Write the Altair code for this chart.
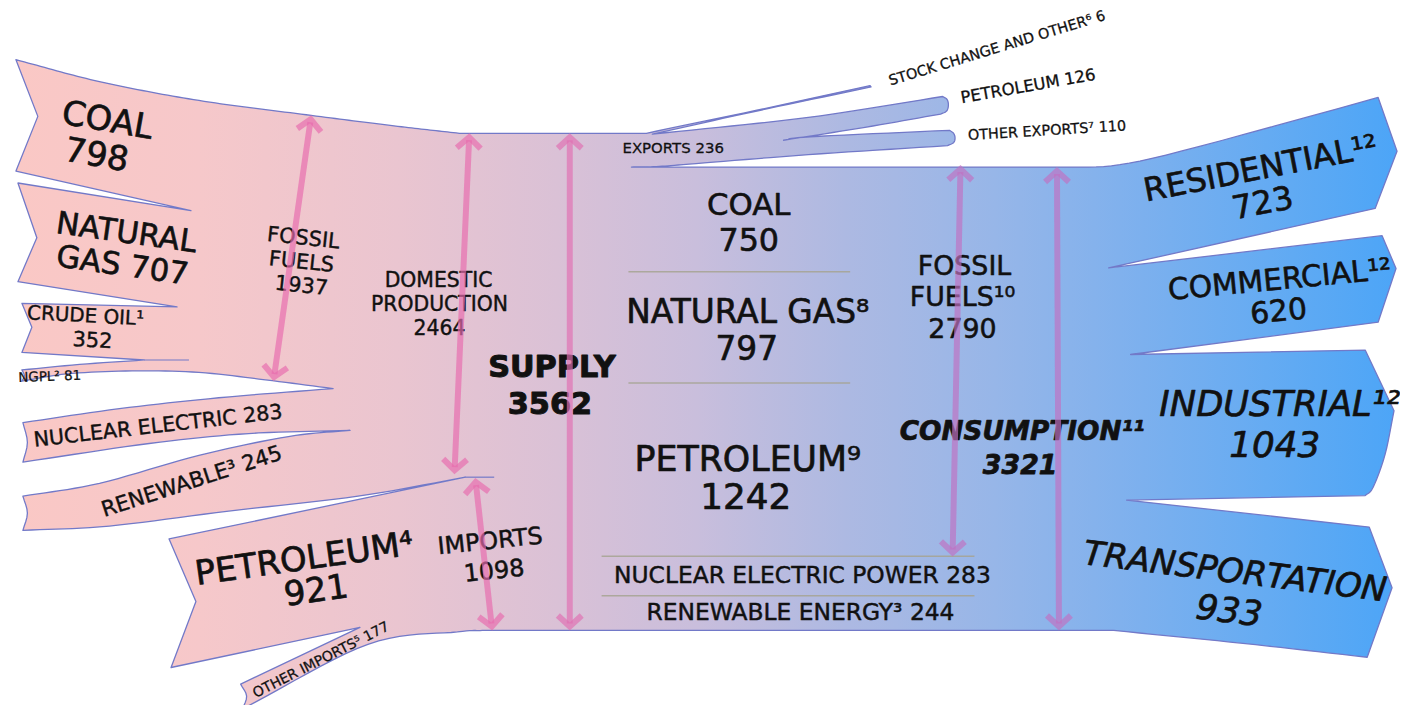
import math
import numpy as np
import pandas as pd
import altair as alt

# ---------------- values ----------------
prod_names = ["COAL", "NATURAL GAS", "CRUDE OIL", "NGPL", "NUCLEAR ELECTRIC", "RENEWABLE"]
prod_values = [798, 707, 352, 81, 283, 245]
fossil_prod = 1937
domestic_total = 2464
import_names = ["PETROLEUM", "OTHER IMPORTS"]
import_values = [921, 177]
imports_total = 1098
supply_total = 3562
export_names = ["STOCK CHANGE AND OTHER", "PETROLEUM", "OTHER EXPORTS"]
export_values = [6, 126, 110]
exports_total = 236
mix_names = ["COAL", "NATURAL GAS", "PETROLEUM", "NUCLEAR ELECTRIC POWER", "RENEWABLE ENERGY"]
mix_values = [750, 797, 1242, 283, 244]
fossil_cons = 2790
consumption_total = 3321
sector_names = ["RESIDENTIAL", "COMMERCIAL", "INDUSTRIAL", "TRANSPORTATION"]
sector_values = [723, 620, 1043, 933]

# ---------------- layout helpers ----------------
K = 500.0 / supply_total          # pixels per unit of flow
Y0 = 132.0                        # top of the supply bundle
YS = Y0 + supply_total * K
YD = Y0 + domestic_total * K
YC = Y0 + (export_values[0] + exports_total) * K
cons_cum = YC + np.cumsum([0] + sector_values) * K
mix_cum = YC + np.cumsum([0] + mix_values) * K


def cr(pts, n=12):
    pts = np.asarray(pts, float)
    if len(pts) == 2:
        return [tuple(p) for p in pts]
    P = np.vstack([2 * pts[0] - pts[1], pts, 2 * pts[-1] - pts[-2]])
    out = []
    for i in range(1, len(P) - 2):
        p0, p1, p2, p3 = P[i - 1], P[i], P[i + 1], P[i + 2]
        for t in np.linspace(0, 1, n, endpoint=False):
            t2, t3 = t * t, t * t * t
            q = 0.5 * ((2 * p1) + (-p0 + p2) * t + (2 * p0 - 5 * p1 + 4 * p2 - p3) * t2
                       + (-p0 + 3 * p1 - 3 * p2 + p3) * t3)
            out.append(tuple(q))
    out.append(tuple(P[-2]))
    return out


def bez(p0, p1, p2, p3, n=16):
    out = []
    for t in np.linspace(0, 1, n + 1):
        u = 1 - t
        out.append((u ** 3 * p0[0] + 3 * u * u * t * p1[0] + 3 * u * t * t * p2[0] + t ** 3 * p3[0],
                    u ** 3 * p0[1] + 3 * u * u * t * p1[1] + 3 * u * t * t * p2[1] + t ** 3 * p3[1]))
    return out


top_curve = cr([(16, 58), (100, 80), (200, 99), (313, 114), (400, 125), (462, Y0)], 20) + [(650, Y0)]
_tx = np.array([p[0] for p in top_curve])
_ty = np.array([p[1] for p in top_curve])


def T(x):
    return float(np.interp(x, _tx, _ty))


outline = []


def add(pts):
    for p in pts:
        if outline and abs(outline[-1][0] - p[0]) < 1e-6 and abs(outline[-1][1] - p[1]) < 1e-6:
            continue
        outline.append((float(p[0]), float(p[1])))


cum_prod = np.cumsum(prod_values)
# top edge of production / supply
add(top_curve)
# stock change (thin spike)
sc = export_values[0] * K
add(cr([(650, Y0), (760, 109), (875, 84)], 10))
add(cr([(876, 84 + sc + 0.6), (760, 109 + sc), (656, Y0 + sc)], 10))
# petroleum exports
pt = 95.0
pb = pt + export_values[1] * K
add(cr([(656, Y0 + sc), (813, 116), (948, pt)], 12))
add(cr([(948, pt), (952.5, pt + 3), (953.8, (pt + pb) / 2), (952, pb - 3), (946, pb)], 4))
add(cr([(946, pb), (870, 126), (788, 139)], 10))
# other exports
ot = 129.0
ob = ot + export_values[2] * K
add(cr([(788, 139), (815, 135.5), (955, ot)], 10))
add(cr([(955, ot), (959, ot + 3), (960.5, (ot + ob) / 2), (959, ob - 3), (953, ob)], 4))
add(cr([(953, ob), (813, 153.5), (700, 162.5), (660, YC - 0.5), (635, YC)], 10))
# consumption top -> residential
add([(635, YC), (1095, YC)])
add(bez((1095, YC), (1135, YC), (1165, 157), (1386, 96), 16))
rt = 96.0
rb = rt + sector_values[0] * K * 1.1
add([(1386, rt), (1405, 150), (1383, rb)])
add([(1383, rb), (1115, cons_cum[1])])
# commercial
ct = 235.0
cb = ct + sector_values[1] * K
add([(1115, cons_cum[1]), (1390, ct), (1404, 268), (1386, cb), (1137, cons_cum[2])])
# industrial
it = 350.0
ib = it + sector_values[2] * K
add([(1137, cons_cum[2]), (1373, it), (1402, 411)])
add(cr([(1402, 411), (1393, 455), (1381, 488), (1373, ib)], 6))
add([(1373, ib), (1133, cons_cum[3])])
# transportation
trt = 528.0
trb = trt + sector_values[3] * K
add([(1133, cons_cum[3]), (1377, trt), (1400, 589), (1375, trb)])
add(cr([(1375, trb), (1250, 645), (1120, YS)], 10))
add([(1120, YS), (485, YS)])
# other imports
oit = 686.0
oib = oit + import_values[1] * K
add(cr([(485, YS), (460, YS + 1.5), (370, 646), (244, oib)], 10))
add(cr([(244, oib), (248, 698), (242, oit)], 4))
add([(242, oit), (362, 629)])
# petroleum imports
ptop = 540.0
pbot = ptop + import_values[0] * K
add([(362, 629), (172, pbot), (197, 603), (170, ptop), (468, YD)])
# renewable
rnt = 497.0
rnb = rnt + prod_values[5] * K
tip_nr = T(352) + cum_prod[4] * K
add(cr([(468, YD), (360, 497), (230, 512), (110, 527), (23, rnb)], 10))
add(cr([(23, rnb), (27.5, 514), (23, rnt)], 4))
add(cr([(23, rnt), (100, 484), (200, 456), (290, 437), (352, tip_nr)], 10))
# nuclear
nt = 423.0
nb = nt + prod_values[4] * K
tip_f = T(335) + fossil_prod * K
add(cr([(352, tip_nr), (250, 434), (150, 444), (23, nb)], 10))
add(cr([(23, nb), (27.5, 443), (23, nt)], 4))
add(cr([(23, nt), (120, 409), (220, 398), (335, tip_f)], 10))
# NGPL
gt = 370.0
gb = gt + prod_values[3] * K
add(cr([(335, tip_f), (267, 380), (200, 372.5), (133, 371), (67, 374), (22, gb)], 10))
add(cr([(22, gb), (24.5, (gt + gb) / 2), (22, gt)], 3))
add(cr([(22, gt), (80, 364.5), (145, 360)], 8))
# crude oil
crt = 303.0
crb = crt + prod_values[2] * K
add([(145, 360), (22, crb), (32, 327), (22, crt), (178, T(178) + cum_prod[1] * K)])
# natural gas
ngt = 182.0
ngb = ngt + prod_values[1] * K
add([(178, T(178) + cum_prod[1] * K), (18, ngb), (37, 237), (18, ngt), (192, T(192) + cum_prod[0] * K)])
# coal
cob = 58 + prod_values[0] * K
add([(192, T(192) + cum_prod[0] * K), (16, cob), (38, 115)])

poly_df = pd.DataFrame({"x": [p[0] for p in outline], "y": [p[1] for p in outline],
                        "i": list(range(len(outline)))})

# internal boundary stubs
ext_rows = []
for sid, pts in enumerate([[(145, 360), (190, 360)], [(468, YD), (497, YD)]]):
    for j, (x, y) in enumerate(pts):
        ext_rows.append({"x": x, "y": y, "s": sid, "i": j})
ext_df = pd.DataFrame(ext_rows)

# separators in the middle
sep_rows = []
for sid, (yv, xa, xb) in enumerate([(mix_cum[1], 632, 855), (mix_cum[2], 632, 855),
                                    (mix_cum[3], 605, 980), (mix_cum[4], 605, 980)]):
    sep_rows += [{"x": xa, "y": yv, "s": sid, "i": 0}, {"x": xb, "y": yv, "s": sid, "i": 1}]
sep_df = pd.DataFrame(sep_rows)

# arrows
arrow_rows = []


def arrow(x1, y1, x2, y2, color, aid):
    def seg(name, pts):
        for j, (x, y) in enumerate(pts):
            arrow_rows.append({"x": x, "y": y, "s": f"{aid}-{name}", "i": j, "c": color})
    dx, dy = x2 - x1, y2 - y1
    L = math.hypot(dx, dy)
    ux, uy = dx / L, dy / L
    a = (x1 + ux * 4, y1 + uy * 4)
    b = (x2 - ux * 4, y2 - uy * 4)
    seg("shaft", [(a[0] + ux * 3, a[1] + uy * 3), (b[0] - ux * 3, b[1] - uy * 3)])
    for name, tip, (vx, vy) in [("h1", a, (ux, uy)), ("h2", b, (-ux, -uy))]:
        px, py = -vy, vx
        back, half = 11, 12
        seg(name, [(tip[0] + vx * back + px * half, tip[1] + vy * back + py * half),
                   tip,
                   (tip[0] + vx * back - px * half, tip[1] + vy * back - py * half)])


PINK = "#e86cae"
PURP = "#c072c2"
arrow(313, T(313), 275, T(275) + fossil_prod * K, PINK, "fp")
arrow(472, Y0, 457, YD - 3, PINK, "dp")
arrow(478, YD + 1, 495, YS, PINK, "im")
arrow(573, Y0, 573, YS, "#e070b2", "su")
arrow(966, YC - 2, 958, YC + fossil_cons * K, PURP, "fc")
arrow(1063, YC, 1065, YS, PURP, "co")
arrow_df = pd.DataFrame(arrow_rows)

# labels
regular = [
    ("COAL", 108, 120, 10, 34), (f"{prod_values[0]}", 97, 155, 10, 34),
    ("NATURAL", 127, 233, 8, 31), (f"GAS {prod_values[1]}", 123, 266, 8, 31),
    ("CRUDE OIL¹", 86, 316, 3, 20), (f"{prod_values[2]}", 93, 341, 3, 21),
    (f"NGPL² {prod_values[3]}", 50, 377, 358, 13.5),
    (f"NUCLEAR ELECTRIC {prod_values[4]}", 159, 427, 353.5, 20.8),
    (f"RENEWABLE³  {prod_values[5]}", 193, 483, 342, 21.5),
    ("PETROLEUM⁴", 306, 561, 352, 34), (f"{import_values[0]}", 318, 593, 352, 34),
    (f"OTHER IMPORTS⁵ {import_values[1]}", 323, 662, 333, 14),
    ("FOSSIL", 305, 238, 6, 21), ("FUELS", 303, 262, 6, 21), (f"{fossil_prod}", 303, 286, 6, 21),
    ("DOMESTIC", 441, 281, 0, 20.5), ("PRODUCTION", 442, 305, 0, 20.5), (f"{domestic_total}", 442, 329, 0, 20.5),
    ("IMPORTS", 493, 543, 354, 24), (f"{imports_total}", 497, 573, 354, 24),
    ("COAL", 753, 205, 0, 31), (f"{mix_values[0]}", 753, 240, 0, 32),
    ("NATURAL GAS⁸", 752, 313, 0, 33), (f"{mix_values[1]}", 751, 350, 0, 33),
    ("PETROLEUM⁹", 752, 461, 0, 35), (f"{mix_values[2]}", 750, 499, 0, 36),
    (f"NUCLEAR ELECTRIC POWER {mix_values[3]}", 807, 577, 0, 23.5),
    (f"RENEWABLE ENERGY³ {mix_values[4]}", 805, 615, 0, 23.5),
    (f"EXPORTS {exports_total}", 677, 147, 0, 15),
    (f"STOCK CHANGE AND OTHER⁶ {export_values[0]}", 1003, 47, 343, 14.5),
    (f"PETROLEUM {export_values[1]}", 1034, 85, 350, 16.5),
    (f"OTHER EXPORTS⁷ {export_values[2]}", 1053, 130, 356.5, 14.5),
    ("FOSSIL", 970, 267, 0, 27), ("FUELS¹⁰", 968, 298, 0, 27), (f"{fossil_cons}", 968, 330, 0, 27),
    ("RESIDENTIAL¹²", 1268, 168, 349, 32.5), (f"{sector_values[0]}", 1270, 203, 349, 32.5),
    ("COMMERCIAL¹²", 1287, 280, 354.5, 30), (f"{sector_values[1]}", 1286, 312, 354.5, 30),
]
italic = [
    ("INDUSTRIAL¹²", 1287, 405, 0, 35.5), (f"{sector_values[2]}", 1282, 447, 0, 36),
    ("TRANSPORTATION", 1242, 574, 7, 34), (f"{sector_values[3]}", 1236, 613, 7, 35),
]
bold = [("SUPPLY", 555, 368, 0, 30.5), (f"{supply_total}", 553, 405, 0, 30.5)]
bold_italic = [("CONSUMPTION¹¹", 1028, 432, 0, 26.5), (f"{consumption_total}", 1026, 467, 0, 27)]


def tdf(rows, k):
    d = pd.DataFrame(rows, columns=["t", "x", "y", "a", "s"])
    d["w"] = d["s"] * k
    return d


W, H = 1400, 697
xs = alt.Scale(domain=[8, 8 + W], range=[0, W], zero=False, nice=False)
ys = alt.Scale(domain=[8, 8 + H], range=[0, H], zero=False, nice=False)
X = alt.X("x:Q", scale=xs, axis=None)
Y = alt.Y("y:Q", scale=ys, axis=None)

x_min, x_max = poly_df.x.min(), poly_df.x.max()
stop_x = [16, 200, 400, 560, 700, 850, 1000, 1150, 1300, 1405]
stop_c = ["#fac8c5", "#f6c8ca", "#eac5d0", "#dac1d6", "#c9bedc", "#adb9e2",
          "#97b6e8", "#7cb0ee", "#60aaf3", "#4ca5f7"]
grad = alt.LinearGradient(
    gradient="linear", x1=0, x2=1, y1=0, y2=0,
    stops=[alt.GradientStop(offset=float(min(1, max(0, (sx - x_min) / (x_max - x_min)))), color=c)
           for sx, c in zip(stop_x, stop_c)])

OUT = "#7279c8"
poly = alt.Chart(poly_df).mark_line(
    interpolate="linear-closed", fill=grad, stroke=OUT, strokeWidth=1.3, strokeJoin="round"
).encode(x=X, y=Y, order=alt.Order("i:Q"))

ext = alt.Chart(ext_df).mark_line(stroke=OUT, strokeWidth=1.2).encode(
    x=X, y=Y, detail="s:N", order=alt.Order("i:Q"))

sep = alt.Chart(sep_df).mark_line(stroke="#a6a392", strokeWidth=1.6, opacity=0.85).encode(
    x=X, y=Y, detail="s:N", order=alt.Order("i:Q"))


def text_layer(rows, weight="normal", style="normal", k=0.02):
    return alt.Chart(tdf(rows, k)).mark_text(
        font="DejaVu Sans", fontWeight=weight, fontStyle=style, align="center",
        baseline="middle", color="#111111", stroke="#111111", strokeJoin="round"
    ).encode(x=X, y=Y, text="t:N", angle=alt.Angle("a:Q", scale=None),
             size=alt.Size("s:Q", scale=None),
             strokeWidth=alt.StrokeWidth("w:Q", scale=None))


arrows = alt.Chart(arrow_df).mark_line(strokeWidth=6, strokeCap="butt", strokeJoin="miter",
                                       opacity=0.68).encode(
    x=X, y=Y, detail="s:N", order=alt.Order("i:Q"), color=alt.Color("c:N", scale=None))

chart = alt.layer(
    poly, ext, sep,
    text_layer(regular), text_layer(italic, style="italic"),
    text_layer(bold, weight="bold", k=0.033), text_layer(bold_italic, weight="bold", style="italic", k=0.028),
    arrows,
).properties(width=W, height=H, padding=0,
             autosize=alt.AutoSizeParams(type="none")
).configure_view(stroke=None)

chart.save("out.html", embed_options={"renderer": "svg", "actions": False})
